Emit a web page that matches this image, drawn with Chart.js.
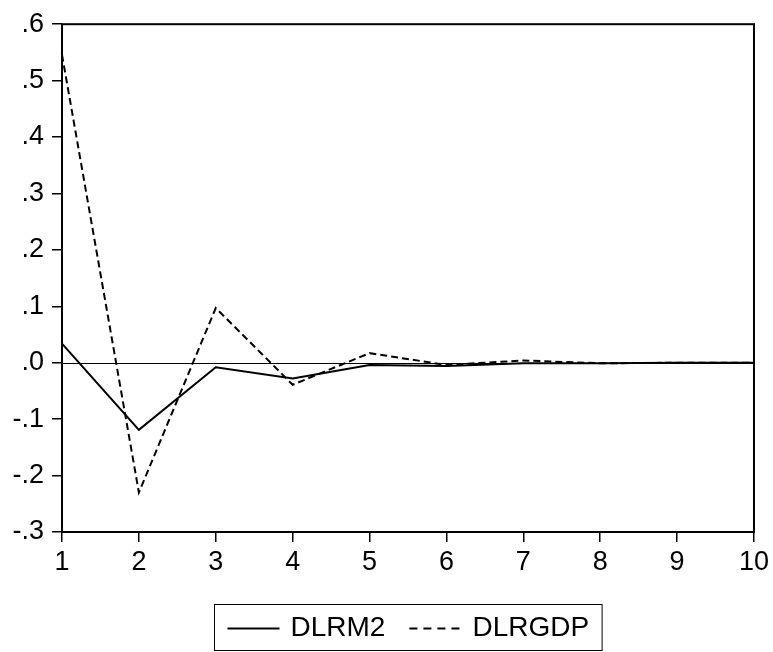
<!DOCTYPE html>
<html>
<head>
<meta charset="utf-8">
<script src="https://cdn.jsdelivr.net/npm/chart.js@4.4.1/dist/chart.umd.min.js"></script>
<style>
  html, body { margin: 0; padding: 0; background: #fff; }
  #wrap { width: 773px; height: 652px; }
</style>
</head>
<body>
<div id="wrap"><canvas id="irf" width="773" height="652"></canvas></div>
<script>
// Periods after the shock
const periods = [1, 2, 3, 4, 5, 6, 7, 8, 9, 10];
// Responses of each variable
const dlrm2 = [0.034, -0.119, -0.008, -0.028, -0.004, -0.006, -0.001, -0.001, 0.000, 0.000];
const dlrgdp = [0.546, -0.230, 0.097, -0.039, 0.017, -0.004, 0.004, -0.001, 0.000, 0.000];
// Y axis tick values
const yTicks = [-0.3, -0.2, -0.1, 0.0, 0.1, 0.2, 0.3, 0.4, 0.5, 0.6];

const FONT = 'Liberation Sans, Arial, Helvetica, sans-serif';

// formats .6, .0, -.1 like the original package does
function fmtTick(v) {
    if (Math.abs(v) < 1e-9) return '.0';
    return v.toFixed(1).replace('0.', '.');
}

// zero line, outer frame and the boxed legend under the plot
const framePlugin = {
    id: 'frameAndLegend',
    beforeDatasetsDraw(chart) {
        const { ctx, chartArea: a, scales } = chart;
        const y0 = Math.round(scales.y.getPixelForValue(0)) + 0.5;
        ctx.save();
        ctx.strokeStyle = '#000';
        ctx.lineWidth = 1;
        ctx.beginPath();
        ctx.moveTo(a.left, y0);
        ctx.lineTo(a.right, y0);
        ctx.stroke();
        ctx.restore();
    },
    afterDatasetsDraw(chart) {
        const { ctx, chartArea: a } = chart;
        ctx.save();
        ctx.strokeStyle = '#000';
        ctx.lineWidth = 2;
        ctx.strokeRect(a.left, a.top, a.right - a.left, a.bottom - a.top);
        ctx.restore();
    },
    afterDraw(chart) {
        const { ctx, chartArea: a } = chart;
        const sets = chart.data.datasets;
        ctx.save();
        ctx.font = '28px ' + FONT;
        ctx.textBaseline = 'middle';
        const sample = 52, gapIn = 11, gapOut = 24, padX = 13;
        const widths = sets.map(d => ctx.measureText(d.label).width);
        let total = padX * 2;
        widths.forEach((w, i) => { total += sample + gapIn + w + (i > 0 ? gapOut : 0); });
        const cx = (a.left + a.right) / 2;
        const boxL = Math.round(cx - total / 2) + 0.5;
        const boxT = 604.5, boxH = 46;
        const midY = boxT + boxH / 2 + 1;
        ctx.strokeStyle = '#000';
        ctx.lineWidth = 1;
        ctx.strokeRect(boxL, boxT, total, boxH);
        let x = boxL + padX;
        sets.forEach((d, i) => {
            if (i > 0) x += gapOut;
            ctx.beginPath();
            ctx.lineWidth = 2;
            ctx.setLineDash(d.borderDash && d.borderDash.length ? [8, 6] : []);
            ctx.moveTo(x, midY);
            ctx.lineTo(x + sample, midY);
            ctx.stroke();
            ctx.setLineDash([]);
            x += sample + gapIn;
            ctx.fillStyle = '#000';
            ctx.fillText(d.label, x, midY);
            x += widths[i];
        });
        ctx.restore();
    }
};

new Chart(document.getElementById('irf').getContext('2d'), {
    type: 'line',
    data: {
        labels: periods,
        datasets: [{
            label: 'DLRM2',
            data: dlrm2,
            borderColor: '#000',
            borderWidth: 2,
            pointRadius: 0,
            tension: 0,
            fill: false
        }, {
            label: 'DLRGDP',
            data: dlrgdp,
            borderColor: '#000',
            borderWidth: 2,
            borderDash: [7, 4],
            pointRadius: 0,
            tension: 0,
            fill: false
        }]
    },
    options: {
        responsive: false,
        animation: false,
        devicePixelRatio: 1,
        layout: { padding: { top: 22, right: 18, bottom: 0, left: 0 } },
        plugins: {
            legend: { display: false },
            tooltip: { enabled: false }
        },
        scales: {
            x: {
                type: 'category',
                offset: false,
                afterFit(scale) { scale.height = 120; },
                grid: {
                    offset: false,
                    drawOnChartArea: false,
                    drawTicks: true,
                    tickLength: 10,
                    color: '#000',
                    lineWidth: 1.5
                },
                border: { display: false },
                ticks: {
                    color: '#000',
                    font: { family: FONT, size: 27 },
                    padding: 4,
                    maxRotation: 0,
                    autoSkip: false
                }
            },
            y: {
                min: -0.3,
                max: 0.6,
                afterFit(scale) { scale.width = 62; },
                afterBuildTicks(scale) { scale.ticks = yTicks.map(v => ({ value: v })); },
                grid: {
                    drawOnChartArea: false,
                    drawTicks: true,
                    tickLength: 10,
                    color: '#000',
                    lineWidth: 1.5
                },
                border: { display: false },
                ticks: {
                    color: '#000',
                    font: { family: FONT, size: 27 },
                    padding: 8,
                    callback: v => fmtTick(v)
                }
            }
        }
    },
    plugins: [framePlugin]
});
</script>
</body>
</html>
